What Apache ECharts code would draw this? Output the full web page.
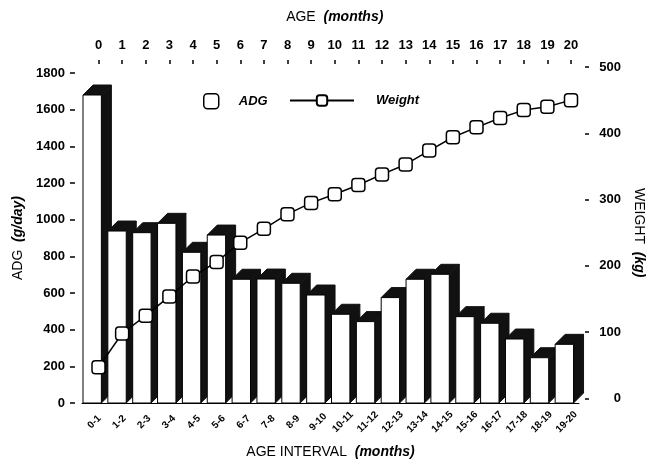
<!DOCTYPE html>
<html>
<head>
<meta charset="utf-8">
<script src="https://cdn.jsdelivr.net/npm/echarts@6/dist/echarts.min.js"></script>
<style>
  html, body { margin: 0; padding: 0; background: #fff; }
  #chart { width: 651px; height: 462px; }
</style>
</head>
<body>
<div id="chart"></div>
<script>
const INTERVALS = ['0-1', '1-2', '2-3', '3-4', '4-5', '5-6', '6-7', '7-8', '8-9', '9-10',
  '10-11', '11-12', '12-13', '13-14', '14-15', '15-16', '16-17', '17-18', '18-19', '19-20'];
const ADG = [1680, 938, 929, 980, 822, 916, 675, 676, 653, 589,
  484, 444, 575, 675, 702, 471, 435, 349, 247, 320];
const AGE = [0, 1, 2, 3, 4, 5, 6, 7, 8, 9, 10, 11, 12, 13, 14, 15, 16, 17, 18, 19, 20];
const WEIGHT = [47, 98, 125, 154, 184, 206, 235, 256, 278, 295, 308,
  322, 338, 353, 374, 394, 409, 423, 435, 440, 450];

const INK = '#000';
const FONT = 'Liberation Sans';
const label = { color: INK, fontFamily: FONT, fontWeight: 'bold', fontSize: 13 };
const title = { color: INK, fontFamily: FONT, fontSize: 14,
  rich: { i: { color: INK, fontFamily: FONT, fontSize: 14, fontWeight: 'bold', fontStyle: 'italic' } } };
const tick = { show: true, lineStyle: { color: INK, width: 1.5 } };

const chart = echarts.init(document.getElementById('chart'));

// 3D-looking bar: white front face, black top and side
function renderBar(params, api) {
  const i = api.value(0);
  const top = api.coord([i, api.value(1)]);
  const base = api.coord([i, 0]);
  const band = api.size([1, 0])[0];
  const w = band * 0.74;
  const x0 = top[0] - band / 2 + 1;
  const d = 10;
  const black = { fill: '#111', stroke: '#111', lineWidth: 1 };
  return {
    type: 'group',
    children: [
      { type: 'polygon', shape: { points: [[x0 + w, top[1]], [x0 + w + d, top[1] - d], [x0 + w + d, base[1] - d], [x0 + w, base[1]]] }, style: black },
      { type: 'polygon', shape: { points: [[x0, top[1]], [x0 + d, top[1] - d], [x0 + w + d, top[1] - d], [x0 + w, top[1]]] }, style: black },
      { type: 'rect', shape: { x: x0, y: top[1], width: w, height: base[1] - top[1] }, style: { fill: '#fff', stroke: INK, lineWidth: 1 } },
    ],
  };
}

chart.setOption({
  backgroundColor: '#fff',
  animation: false,
  grid: [
    { left: 82, right: 72, top: 73, bottom: 59, outerBoundsMode: 'none' },
    { left: 98.5, right: 80, top: 67, bottom: 63.5, outerBoundsMode: 'none' },
  ],
  legend: [
    {
      data: [{ name: 'ADG', icon: 'roundRect', itemStyle: { color: '#fff', borderColor: INK, borderWidth: 1.5 } }],
      left: 203, top: 93, padding: 0, itemWidth: 15, itemHeight: 15,
      selectedMode: false,
      textStyle: { ...label, fontStyle: 'italic', padding: [0, 0, 0, 15] },
    },
    {
      data: ['Weight'],
      left: 289, top: 94, padding: 0, itemWidth: 64, itemHeight: 13,
      selectedMode: false,
      textStyle: { ...label, fontStyle: 'italic', padding: [0, 0, 0, 17] },
    },
  ],
  xAxis: [
    {
      type: 'category', gridIndex: 0, data: INTERVALS,
      axisLine: { onZero: false, lineStyle: { color: INK } },
      axisTick: { show: false },
      axisLabel: { ...label, fontSize: 10, rotate: 45, align: 'center', verticalAlign: 'middle', margin: 19, interval: 0 },
      name: 'AGE INTERVAL  {i|(months)}', nameLocation: 'middle', nameGap: 42,
      nameTextStyle: title,
    },
    {
      type: 'value', gridIndex: 1, position: 'top', min: 0, max: 20, interval: 1,
      offset: 3,
      axisLine: { show: false, onZero: false },
      axisTick: { ...tick, length: 4 },
      axisLabel: { ...label, margin: 12 },
      splitLine: { show: false },
      name: 'AGE  {i|(months)}', nameLocation: 'middle', nameGap: 40,
      nameTextStyle: title,
    },
  ],
  yAxis: [
    {
      type: 'value', gridIndex: 0, min: 0, max: 1800, interval: 200,
      offset: 7,
      axisLine: { show: false, onZero: false },
      axisTick: { ...tick, length: 5 },
      axisLabel: { ...label, margin: 10, formatter: v => String(v) },
      splitLine: { show: false },
      name: 'ADG  {i|(g/day)}', nameLocation: 'middle', nameGap: 50, nameRotate: 90,
      nameTextStyle: title,
    },
    {
      type: 'value', gridIndex: 1, position: 'right', min: 0, max: 500, interval: 100,
      offset: 14,
      axisLine: { show: false, onZero: false },
      axisTick: { ...tick, length: 4 },
      axisLabel: { ...label, align: 'right', margin: 36 },
      splitLine: { show: false },
      name: 'WEIGHT  {i|(kg)}', nameLocation: 'middle', nameGap: 44, nameRotate: -90,
      nameTextStyle: title,
    },
  ],
  series: [
    {
      name: 'ADG',
      type: 'custom',
      xAxisIndex: 0, yAxisIndex: 0,
      renderItem: renderBar,
      encode: { x: 0, y: 1 },
      itemStyle: { color: '#fff', borderColor: INK },
      data: ADG.map((v, i) => [i, v]),
      z: 2,
    },
    {
      name: 'Weight',
      type: 'line',
      xAxisIndex: 1, yAxisIndex: 1,
      data: AGE.map((a, i) => [a, WEIGHT[i]]),
      symbol: 'roundRect', symbolSize: 13,
      lineStyle: { color: INK, width: 1.5 },
      itemStyle: { color: '#fff', borderColor: INK, borderWidth: 1.5 },
      z: 5,
    },
  ],
});
</script>
</body>
</html>
